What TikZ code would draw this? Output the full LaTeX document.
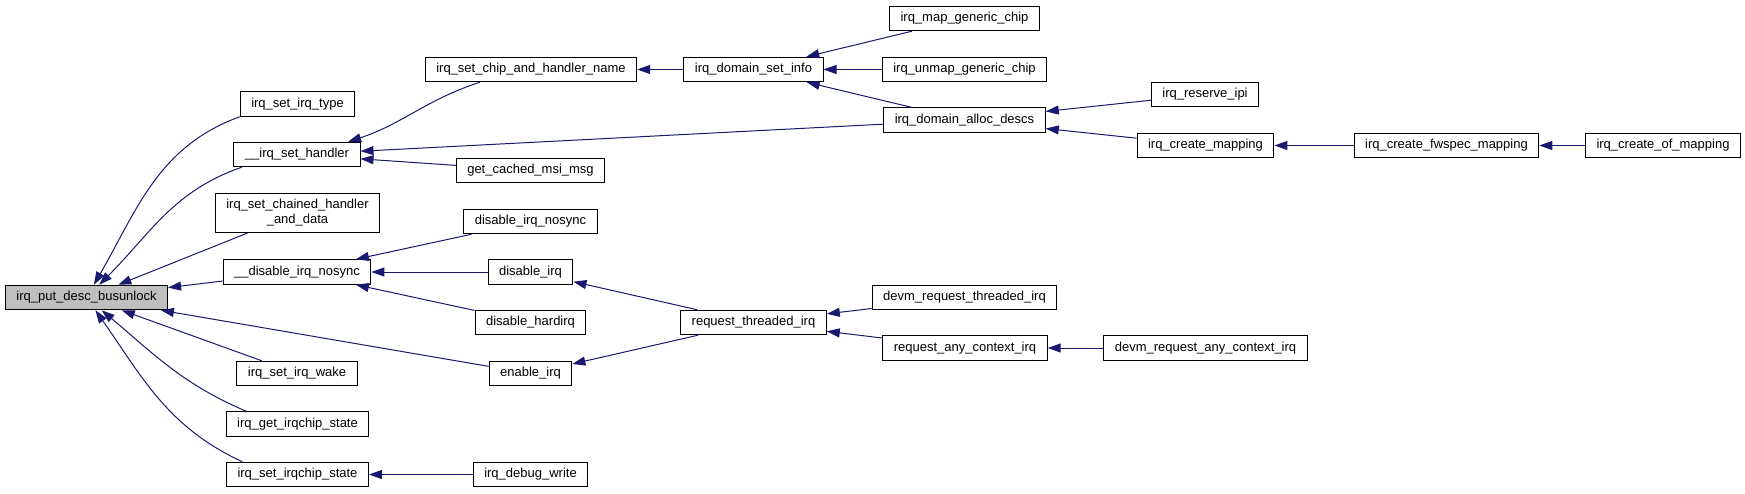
\documentclass[tikz,border=0pt]{standalone}
\usepackage{fontspec}
\setmainfont{Liberation Sans}
\usetikzlibrary{arrows.meta}
\definecolor{edgeblue}{HTML}{191970}
\definecolor{rootgray}{HTML}{BFBFBF}

\begin{document}
\begin{tikzpicture}[->,line width=1pt,>={Triangle[length=13pt,width=9pt]},color=edgeblue,x=1pt,y=1pt,
	fn/.style={draw=black,text=black,rectangle,inner xsep=11pt,minimum height=24.5pt,font=\fontsize{13}{15}\selectfont}]
			\useasboundingbox (0,0) rectangle (1745,-493);
			\node[fn,fill=rootgray] (root) at (86.5,-297.5){irq\_put\_desc\_busunlock};
			\node[fn] (type) at (297.5,-104){irq\_set\_irq\_type};
			\node[fn] (shdl) at (297,-154.5){\_\_irq\_set\_handler};
			\node[fn,align=center,minimum height=39pt] (chain) at (297.5,-213){irq\_set\_chained\_handler\\\_and\_data};
			\node[fn] (dnosync) at (297,-272){\_\_disable\_irq\_nosync};
			\node[fn] (wake) at (297,-373.5){irq\_set\_irq\_wake};
			\node[fn] (getst) at (297.5,-424){irq\_get\_irqchip\_state};
			\node[fn] (setst) at (297.5,-474.5){irq\_set\_irqchip\_state};
			\node[fn] (chipname) at (531,-69.5){irq\_set\_chip\_and\_handler\_name};
			\node[fn] (cached) at (530.5,-170.5){get\_cached\_msi\_msg};
			\node[fn] (nosync) at (530.5,-221.5){disable\_irq\_nosync};
			\node[fn] (dis) at (530.5,-272){disable\_irq};
			\node[fn] (hard) at (530.5,-322.5){disable\_hardirq};
			\node[fn] (en) at (530.5,-373.5){enable\_irq};
			\node[fn] (dbg) at (530.5,-474.5){irq\_debug\_write};
			\node[fn] (setinfo) at (753.5,-69.5){irq\_domain\_set\_info};
			\node[fn] (thr) at (753.5,-322.5){request\_threaded\_irq};
			\node[fn] (map) at (964.5,-18.5){irq\_map\_generic\_chip};
			\node[fn] (unmap) at (964.5,-69.5){irq\_unmap\_generic\_chip};
			\node[fn] (alloc) at (964.5,-120){irq\_domain\_alloc\_descs};
			\node[fn] (devthr) at (964.5,-297.5){devm\_request\_threaded\_irq};
			\node[fn] (anyctx) at (965,-348){request\_any\_context\_irq};
			\node[fn] (ipi) at (1205,-94.5){irq\_reserve\_ipi};
			\node[fn] (cmap) at (1205.5,-145.5){irq\_create\_mapping};
			\node[fn] (devany) at (1205.5,-348){devm\_request\_any\_context\_irq};
			\node[fn] (fwspec) at (1446.5,-145.5){irq\_create\_fwspec\_mapping};
			\node[fn] (ofmap) at (1663,-145.5){irq\_create\_of\_mapping};
			% callers of irq_put_desc_busunlock
			\draw (type.south west) to[out=200,in=60] (root.60);
			\draw (shdl.193) to[out=199,in=45] (root.45);
			\draw (chain) -- (root);
			\draw (dnosync) -- (root);
			\draw (en) -- (root);
			\draw (wake) -- (root);
			\draw (getst.166) to[out=157,in=320] (root.320);
			\draw (setst.167) to[out=155,in=305] (root.305);
			% second level
			\draw (chipname.194) to[out=198,in=18] (shdl.14);
			\draw (alloc) -- (shdl);
			\draw (cached) -- (shdl);
			\draw (nosync) -- (dnosync);
			\draw (dis) -- (dnosync);
			\draw (hard) -- (dnosync);
			\draw (dbg) -- (setst);
			\draw (thr) -- (dis);
			\draw (thr) -- (en);
			\draw (setinfo) -- (chipname);
			\draw (map) -- (setinfo);
			\draw (unmap) -- (setinfo);
			\draw (alloc) -- (setinfo);
			\draw (ipi) -- (alloc);
			\draw (cmap) -- (alloc);
			\draw (fwspec) -- (cmap);
			\draw (ofmap) -- (fwspec);
			\draw (devthr) -- (thr);
			\draw (anyctx) -- (thr);
			\draw (devany) -- (anyctx);
		\end{tikzpicture}
\end{document}
